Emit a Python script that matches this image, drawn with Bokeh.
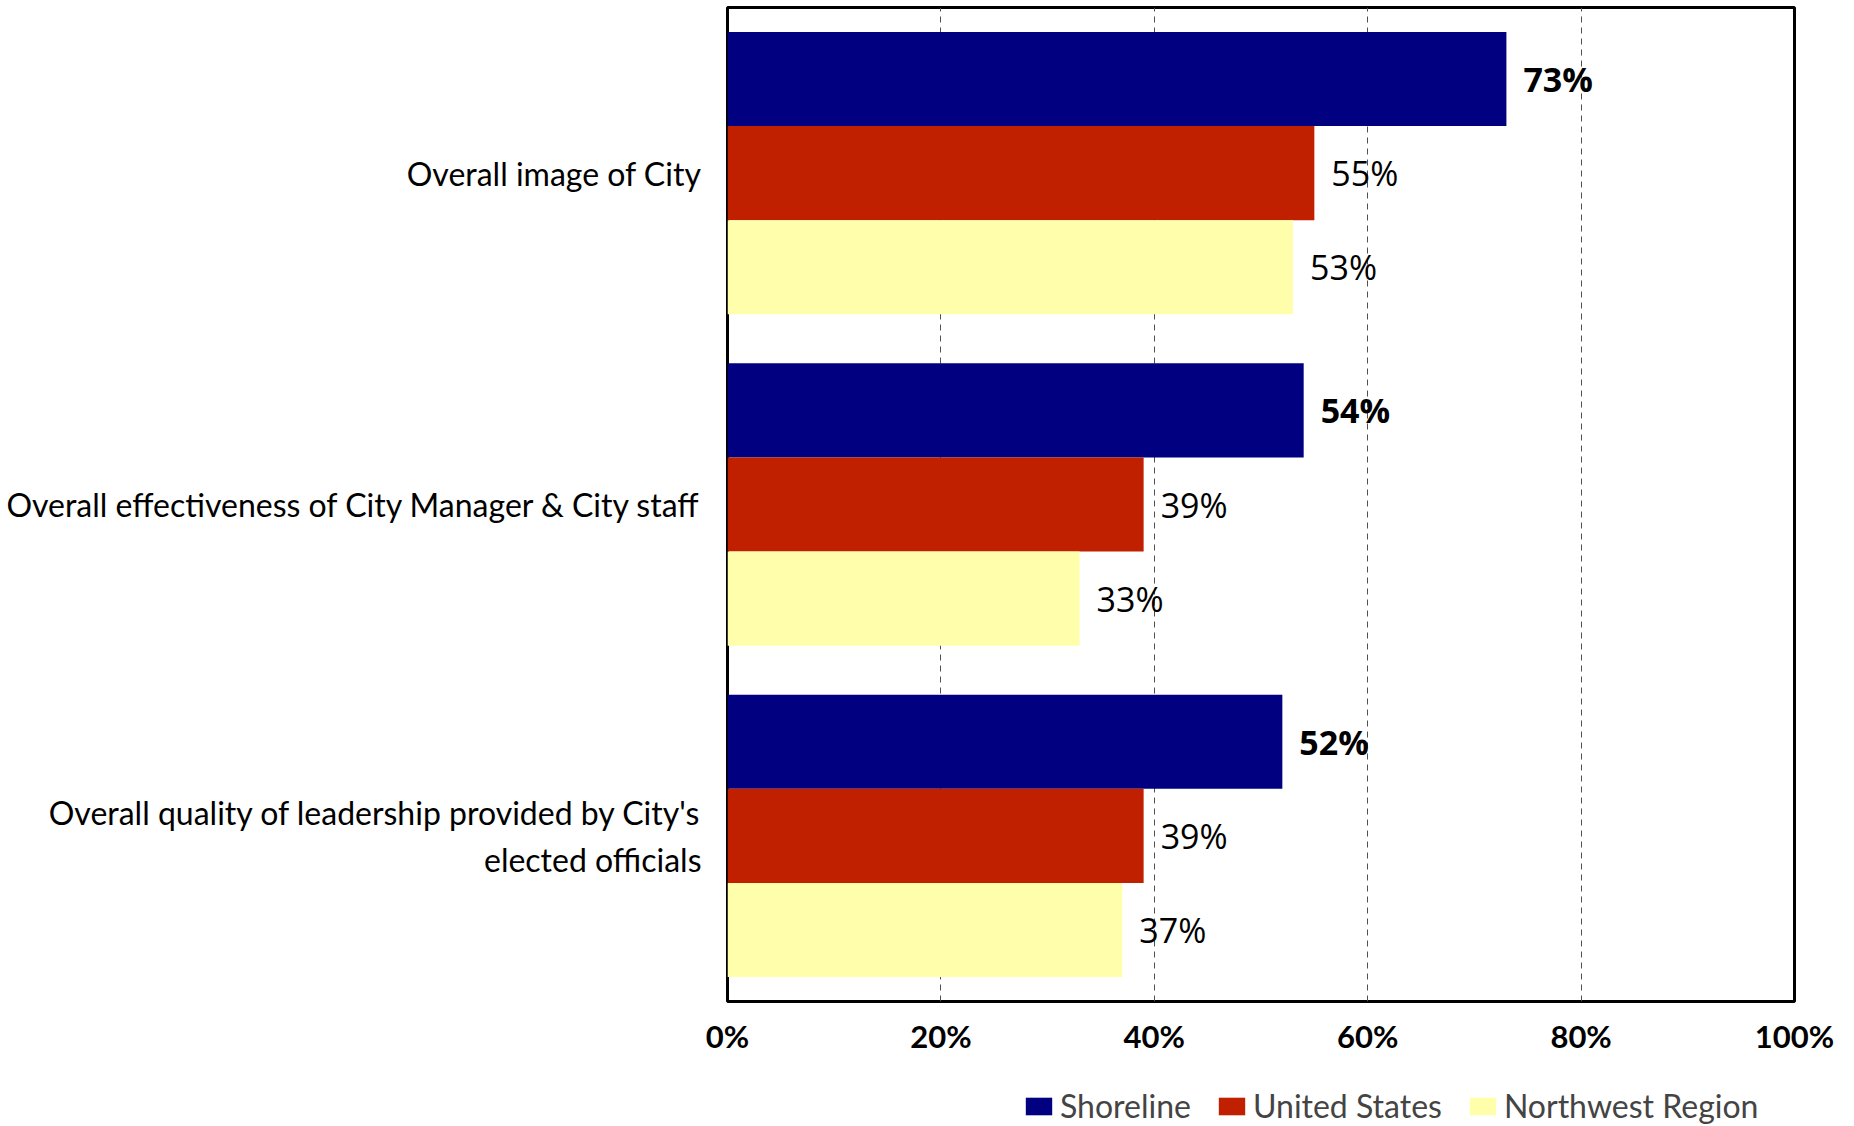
from bokeh.plotting import figure
from bokeh.models import ColumnDataSource, FixedTicker, PrintfTickFormatter, Legend, LegendItem, FactorRange, Range1d
from bokeh.layouts import column
from bokeh.transform import dodge
from bokeh.core.properties import value
from bokeh.embed import file_html
from bokeh.resources import INLINE

categories = [
    "Overall image of City",
    "Overall effectiveness of City Manager & City staff",
    "Overall quality of leadership provided by City's\nelected officials",
]
shoreline = [73, 54, 52]
united_states = [55, 39, 39]
northwest = [53, 33, 37]
series_names = ["Shoreline", "United States", "Northwest Region"]
x_ticks = [0, 20, 40, 60, 80, 100]

colors = ["#000080", "#C01F00", "#FFFFAB"]

src = ColumnDataSource(dict(
    cat=categories,
    shoreline=shoreline,
    us=united_states,
    nw=northwest,
    shoreline_lbl=[f"{v}%" for v in shoreline],
    us_lbl=[f"{v}%" for v in united_states],
    nw_lbl=[f"{v}%" for v in northwest],
))

LEFT = 727
FW = 1067
RIGHT = 56

p = figure(
    y_range=FactorRange(*list(reversed(categories))),
    x_range=(0, 100),
    frame_width=FW, frame_height=994,
    min_border_left=LEFT, min_border_right=RIGHT, min_border_top=7, min_border_bottom=58,
    output_backend="svg", toolbar_location=None,
    background_fill_color="white", border_fill_color="white",
)

bh = 0.284
offs = [bh, 0.0, -bh]
keys = ["shoreline", "us", "nw"]
for k, off, c in zip(keys, offs, colors):
    p.hbar(y=dodge("cat", off, range=p.y_range), right=k, left=0, height=bh,
           source=src, fill_color=c, line_color=None)

lbl_keys = ["shoreline_lbl", "us_lbl", "nw_lbl"]
for k, lk, off in zip(keys, lbl_keys, offs):
    p.text(x=k, y=dodge("cat", off, range=p.y_range), text=lk, source=src,
           x_offset=17, text_align="left", text_baseline="middle",
           text_font=value("Open Sans"), text_font_size="34px",
           text_font_style="bold" if k == "shoreline" else "normal",
           text_color="black")

p.outline_line_color = "black"
p.outline_line_width = 3
p.outline_line_alpha = 1

p.xaxis.ticker = FixedTicker(ticks=x_ticks)
p.xaxis.formatter = PrintfTickFormatter(format="%d%%")
p.xaxis.axis_line_color = None
p.xaxis.major_tick_line_color = None
p.xaxis.minor_tick_line_color = None
p.xaxis.major_label_standoff = 9
p.xaxis.major_label_text_font = "Lato"
p.xaxis.major_label_text_font_style = "bold"
p.xaxis.major_label_text_font_size = "31px"
p.xaxis.major_label_text_color = "black"

p.yaxis.axis_line_color = None
p.yaxis.major_tick_line_color = None
p.yaxis.major_label_standoff = 20
p.yaxis.major_label_text_font = "Lato"
p.yaxis.major_label_text_font_size = "32px"
p.yaxis.major_label_text_color = "black"
p.yaxis.major_label_text_align = "right"

p.ygrid.grid_line_color = None
p.xgrid.ticker = FixedTicker(ticks=[20, 40, 60, 80])
p.xgrid.grid_line_color = "#505050"
p.xgrid.grid_line_width = 1
p.xgrid.grid_line_dash = "6 5"

# legend strip below the chart (zero-width bars, so only the legend shows)
p2 = figure(
    y_range=FactorRange(*list(reversed(categories))),
    x_range=Range1d(0, 100),
    frame_width=FW, frame_height=66,
    min_border_left=LEFT, min_border_right=RIGHT, min_border_top=0, min_border_bottom=0,
    x_axis_location=None, y_axis_location=None,
    output_backend="svg", toolbar_location=None,
    background_fill_color="white", border_fill_color="white",
)
p2.outline_line_color = None
p2.grid.visible = False
leg_renderers = []
for k, off, c in zip(keys, offs, colors):
    r = p2.hbar(y=dodge("cat", off, range=p2.y_range), right=k, left=k, height=bh,
                source=src, fill_color=c, line_color=None)
    leg_renderers.append(r)

legend = Legend(
    items=[LegendItem(label=n, renderers=[r]) for n, r in zip(series_names, leg_renderers)],
    orientation="horizontal", location=(295, 0),
    glyph_width=33, glyph_height=22, label_standoff=5, spacing=24,
    label_text_font="Lato", label_text_font_size="32px",
    border_line_color=None, background_fill_alpha=0, padding=0, margin=0,
)
p2.add_layout(legend, "center")

open("out.html", "w").write(file_html(column(p, p2, spacing=0), INLINE))
